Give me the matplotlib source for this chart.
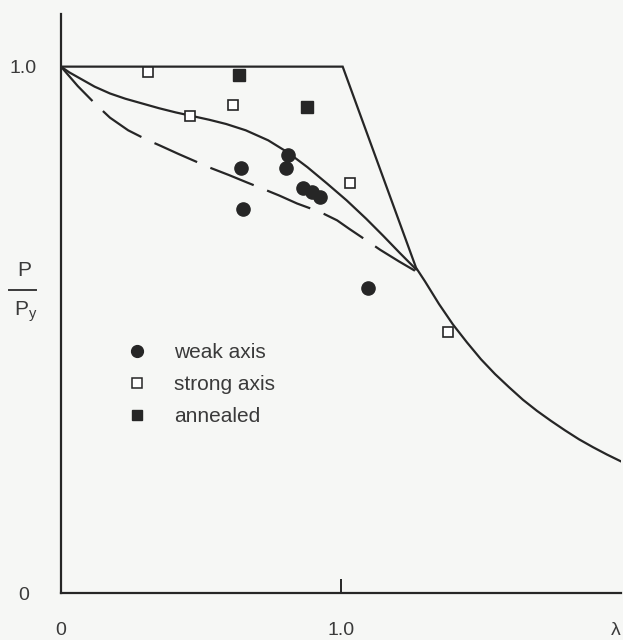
import matplotlib
matplotlib.use("Agg")
import matplotlib.pyplot as plt
from matplotlib.lines import Line2D

plt.rcParams['font.family'] = ['Liberation Sans', 'DejaVu Sans']
plt.rcParams['mathtext.fontset'] = 'custom'
plt.rcParams['mathtext.rm'] = 'Liberation Sans'
plt.rcParams['mathtext.it'] = 'Liberation Sans'

# test results
weak_x = [0.643, 0.650, 0.811, 0.804, 0.864, 0.896, 0.925, 1.096]
weak_y = [0.808, 0.729, 0.833, 0.808, 0.770, 0.761, 0.753, 0.579]
strong_x = [0.311, 0.461, 0.614, 1.032, 1.382]
strong_y = [0.990, 0.907, 0.928, 0.778, 0.495]
annealed_x = [0.636, 0.879]
annealed_y = [0.985, 0.924]

# upper bound: yield plateau, straight line, then Euler curve
bound_x = [0.0, 1.006, 1.268, 1.30, 1.35, 1.40, 1.45, 1.50, 1.55, 1.60, 1.65,
           1.70, 1.75, 1.80, 1.85, 1.90, 1.95, 2.0]
bound_y = [1.0, 1.0, 0.618, 0.592, 0.549, 0.510, 0.476, 0.444, 0.416, 0.391,
           0.367, 0.346, 0.327, 0.309, 0.292, 0.277, 0.263, 0.250]

# column curve (solid)
solid_x = [0.0, 0.03, 0.07, 0.12, 0.175, 0.23, 0.29, 0.35, 0.41, 0.47, 0.53, 0.59,
           0.66, 0.74, 0.81, 0.88, 0.95, 1.02, 1.09, 1.15, 1.21, 1.268]
solid_y = [1.0, 0.989, 0.977, 0.962, 0.949, 0.939, 0.930, 0.921, 0.913, 0.906,
           0.899, 0.891, 0.879, 0.860, 0.837, 0.809, 0.778, 0.746, 0.711, 0.679,
           0.646, 0.615]

# column curve (dashed)
dash_x = [0.0, 0.06, 0.121, 0.175, 0.24, 0.307, 0.354, 0.42, 0.489, 0.532, 0.60,
          0.664, 0.711, 0.78, 0.843, 0.889, 0.94, 0.986, 1.029, 1.071, 1.14,
          1.207, 1.268]
dash_y = [1.0, 0.963, 0.930, 0.903, 0.879, 0.861, 0.850, 0.834, 0.818, 0.808,
          0.794, 0.780, 0.770, 0.755, 0.740, 0.731, 0.720, 0.708, 0.692, 0.677,
          0.652, 0.630, 0.611]

ink = '#262626'
txt = '#3a3a3a'
bg = '#f6f7f5'

fig = plt.figure(figsize=(6.23, 6.40), dpi=100, facecolor=bg)
ax = fig.add_axes([61 / 623, 47 / 640, 560 / 623, 579 / 640], facecolor=bg)

ax.plot(bound_x, bound_y, color=ink, lw=1.6, solid_joinstyle='miter')
ax.plot(solid_x, solid_y, color=ink, lw=1.6)
ax.plot(dash_x, dash_y, color=ink, lw=1.6, dashes=(21, 6.5))

ax.plot(weak_x, weak_y, 'o', ms=9.5, color=ink, mec=ink, ls='none')
ax.plot(strong_x, strong_y, 's', ms=7.5, mfc='white', mec=ink, mew=1.2, ls='none')
ax.plot(annealed_x, annealed_y, 's', ms=8.5, color=ink, ls='none')

ax.set_xlim(0, 2.0)
ax.set_ylim(0, 1.1)
for s in ['top', 'right']:
    ax.spines[s].set_visible(False)
for s in ['left', 'bottom']:
    ax.spines[s].set_linewidth(1.6)
    ax.spines[s].set_color(ink)

ax.set_xticks([0, 1.0])
ax.set_xticklabels(['0', '1.0'])
ax.set_yticks([0, 1.0])
ax.set_yticklabels(['0', '1.0'], ha='center')
ax.tick_params(axis='x', direction='in', length=10, width=1.4, color=ink,
               pad=21, labelsize=14, labelcolor=txt)
ax.tick_params(axis='y', direction='in', length=0, pad=27, labelsize=14,
               labelcolor=txt)

ax.text(1.0, -0.064, 'λ', transform=ax.transAxes, ha='right', va='center',
        fontsize=14, color=txt)

# P / Py label drawn as a stacked fraction
fig.text(24 / 623, 1 - 271 / 640, 'P', ha='center', va='center', fontsize=15, color=txt)
fig.add_artist(Line2D([9 / 623, 36 / 623], [1 - 290 / 640, 1 - 290 / 640],
                      color=txt, lw=1.4))
fig.text(26 / 623, 1 - 312 / 640, r'P$_{\mathrm{y}}$', ha='center', va='center',
         fontsize=15, color=txt)

handles = [Line2D([], [], marker='o', ls='none', ms=8.5, color=ink),
           Line2D([], [], marker='s', ls='none', ms=6.5, mfc='white', mec=ink, mew=1.1),
           Line2D([], [], marker='s', ls='none', ms=7.5, color=ink)]
ax.legend(handles, ['weak axis', 'strong axis', 'annealed'], loc='upper left',
          bbox_to_anchor=(0.1, 0.431), frameon=False, fontsize=15,
          borderaxespad=0, borderpad=0, handlelength=1.9,
          handletextpad=0.85, labelspacing=0.62, labelcolor=txt)

fig.savefig('out.png', dpi=100, facecolor=bg)
